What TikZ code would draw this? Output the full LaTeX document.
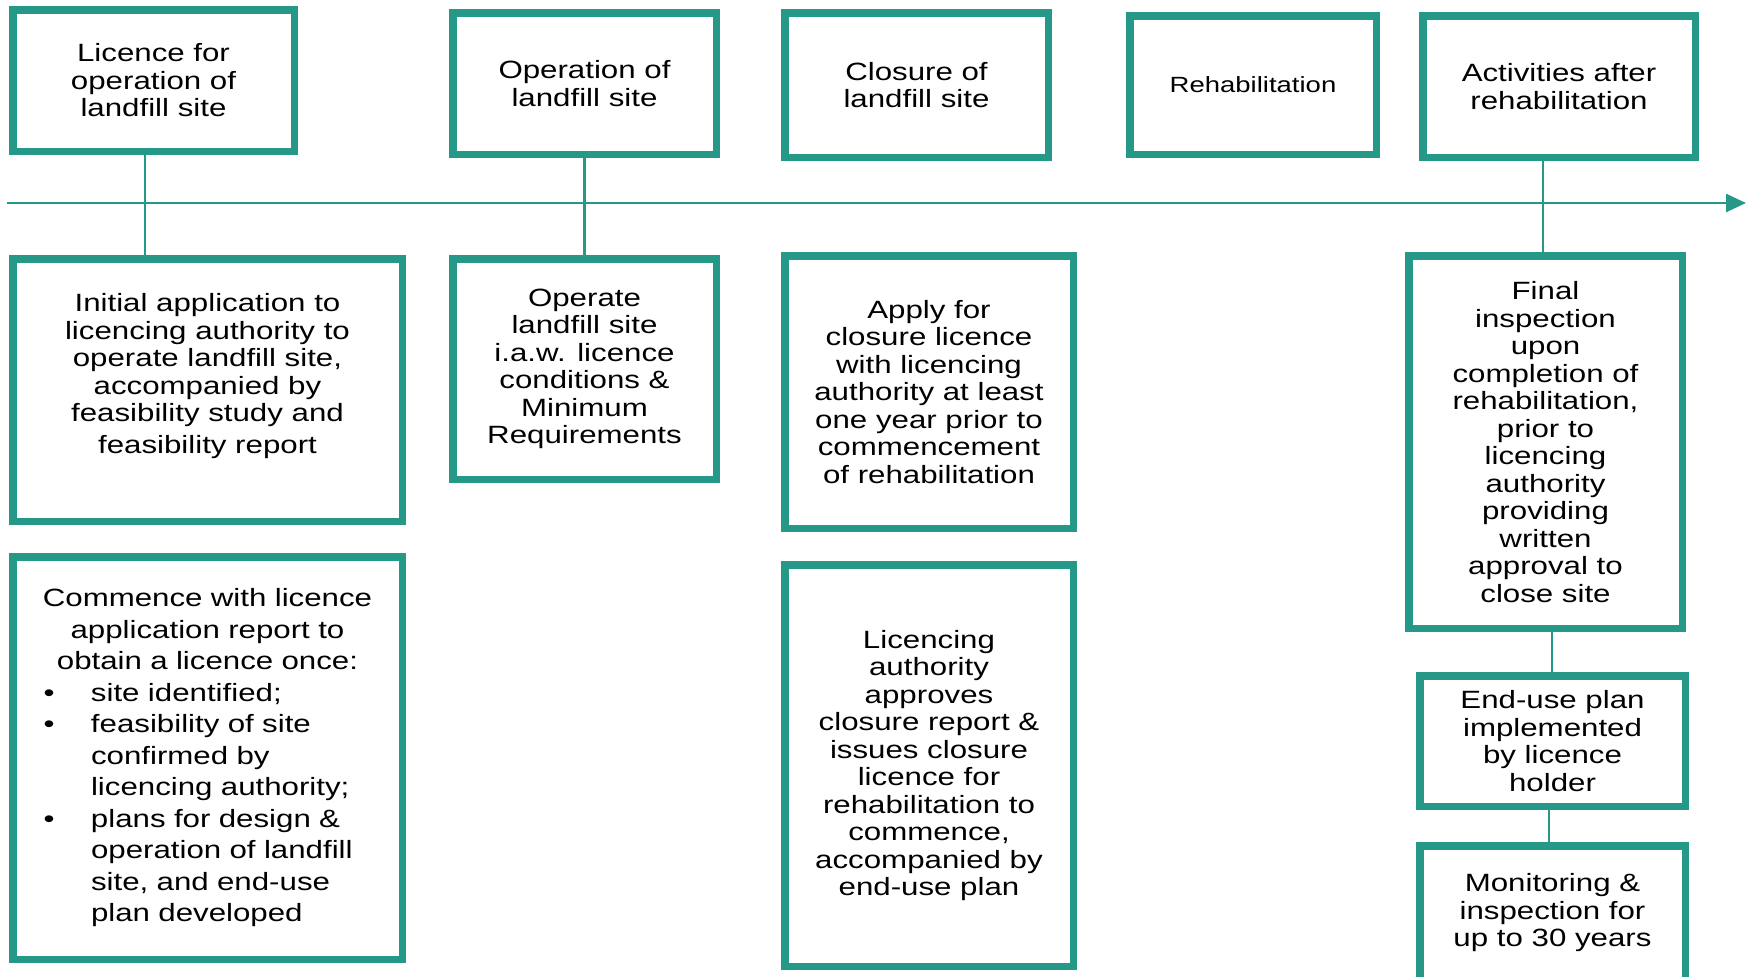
\documentclass[tikz,border=0pt]{standalone}
\usepackage{fontspec}
\setmainfont{Liberation Sans}[FakeStretch=1.25]
\usepackage{tikz}
\usetikzlibrary{arrows.meta}
\definecolor{lfteal}{RGB}{37,152,136}
\newcommand{\blt}{\hspace*{6pt}\makebox[47.5pt][l]{\textbullet}}
\newcommand{\bind}{\hspace*{53.5pt}}

\begin{document}
\begin{tikzpicture}[x=1pt,y=-1pt,
box/.style={draw=lfteal,line width=7.5pt,fill=white,align=center,inner sep=0pt},
link/.style={draw=lfteal,line width=2.5pt},
every node/.style={font=\fontsize{25}{27.5}\selectfont}]
\useasboundingbox (0,0) rectangle (1748,977);
% timeline
\coordinate (tlstart) at (7,203);
\coordinate (tlend) at (1746,203);
\draw[link,-{Triangle[length=20pt,width=18pt]}] (tlstart) -- (tlend);
% phases above the line
\node[box,minimum width=281.5,minimum height=141.5] (licence) at (153.5,80.5) {Licence for\\operation of\\landfill site};
\node[box,minimum width=263.5,minimum height=141.5] (operation) at (584.5,83.5) {Operation of\\landfill site};
\node[box,minimum width=263.5,minimum height=144.5] (closure) at (916.5,85) {Closure of\\landfill site};
\node[box,minimum width=246.5,minimum height=138.5,font=\fontsize{22}{24}\selectfont] (rehab) at (1253,85) {Rehabilitation};
\node[box,minimum width=272.5,minimum height=141.5] (after) at (1559,86.5) {Activities after\\rehabilitation};
% activities below the line
\node[box,minimum width=389.5,minimum height=262.5] (initial) at (207.5,390) {Initial application to\\licencing authority to\\operate landfill site,\\accompanied by\\feasibility study and\\[4pt]feasibility report\\[6pt]\mbox{}};
\node[box,minimum width=263.5,minimum height=220.5] (operate) at (584.5,369) {Operate\\landfill site\\i.a.w. licence\\conditions \&\\Minimum\\Requirements};
\node[box,minimum width=288.5,minimum height=272.5] (apply) at (929,392) {Apply for\\closure licence\\with licencing\\authority at least\\one year prior to\\commencement\\of rehabilitation};
\node[box,minimum width=273.5,minimum height=372.5] (final) at (1545.5,442) {Final\\inspection\\upon\\completion of\\rehabilitation,\\prior to\\licencing\\authority\\providing\\written\\approval to\\close site};
\node[box,minimum width=389.5,minimum height=402.5,text width=340,align=left,font=\fontsize{25}{31.5}\selectfont] (commence) at (207.5,758) {\centering Commence with licence\\application report to\\obtain a licence once:\par\raggedright
\blt site identified;\\
\blt feasibility of site\\ \bind confirmed by\\ \bind licencing authority;\\
\blt plans for design \&\\ \bind operation of landfill\\ \bind site, and end-use\\ \bind plan developed\par};
\node[box,minimum width=288.5,minimum height=401.5] (approves) at (929,765.5) {Licencing\\authority\\approves\\closure report \&\\issues closure\\licence for\\rehabilitation to\\commence,\\accompanied by\\end-use plan};
\node[box,minimum width=265.5,minimum height=130.5] (enduse) at (1552.5,741) {End-use plan\\implemented\\by licence\\holder};
\node[box,minimum width=265.5,minimum height=134.5] (monitor) at (1552.5,913) {Monitoring \&\\inspection for\\up to 30 years};
% connectors
\draw[link] ([xshift=-8.5pt]licence.south) -- ([xshift=-8.5pt]licence.south |- initial.north);
\draw[link] (operation.south) -- (operate.north);
\draw[link] ([xshift=-2.5pt]final.north |- after.south) -- ([xshift=-2.5pt]final.north);
\draw[link] ([xshift=6.5pt]final.south) -- ([xshift=6.5pt]final.south |- enduse.north);
\draw[link] ([xshift=-3.5pt]enduse.south) -- ([xshift=-3.5pt]enduse.south |- monitor.north);
\end{tikzpicture}
\end{document}
